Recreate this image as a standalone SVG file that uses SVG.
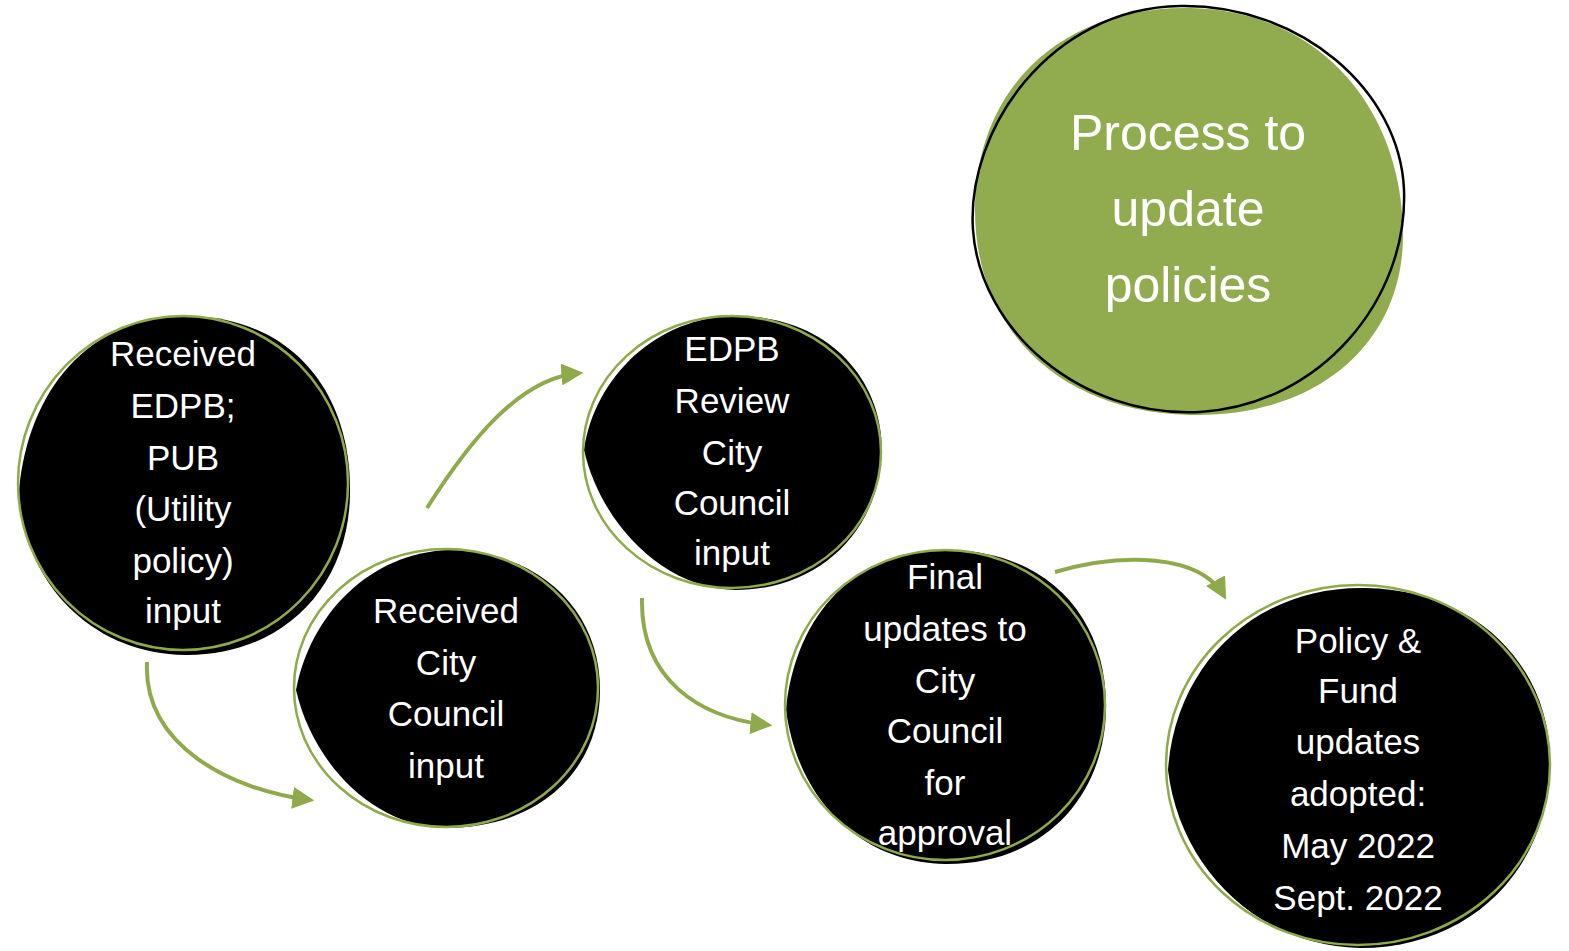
<svg xmlns="http://www.w3.org/2000/svg" width="1569" height="951" viewBox="0 0 1569 951">
<style>
.blob{fill:#000}
.ring{fill:none;stroke:#8FAA4B;stroke-width:2.5}
.t{font-family:"Liberation Sans","Noto Sans",sans-serif;font-size:35px;fill:#fff;text-anchor:middle}
.big{font-family:"Liberation Sans","Noto Sans",sans-serif;font-size:50px;fill:#fff;text-anchor:middle}
.conn{fill:none;stroke:#8FAA4B;stroke-width:4}
</style>
<defs>
<marker id="ah" viewBox="0 0 10 10" refX="8" refY="5" markerWidth="5.5" markerHeight="5.5" orient="auto" markerUnits="strokeWidth">
<path d="M0,0 L10,5 L0,10 z" fill="#8FAA4B"/>
</marker>
</defs>
<g id="title">
<path d="M1190,8 C1320,10 1405,110 1403,240 C1400,350 1310,418 1190,415 C1060,412 975,330 975,210 C975,90 1060,6 1190,8 Z" fill="#91AC4E"/>
<path d="M1180,6 C1300,4 1400,90 1404,190 C1408,300 1320,405 1200,412 C1080,418 980,330 973,230 C966,130 1050,8 1180,6 Z" fill="none" stroke="#000" stroke-width="2.5"/>
<text class="big" x="1188" y="150">Process to</text>
<text class="big" x="1188" y="226">update</text>
<text class="big" x="1188" y="302">policies</text>
</g>
<g id="node1">
<path class="blob" d="M190,316 C290,318 352,390 350,495 C348,590 280,656 185,655 C90,654 22,580 19,490 C28,390 90,314 190,316 Z"/>
<ellipse class="ring" cx="183" cy="483" rx="165" ry="167"/>
<text class="t" x="183" y="366">Received</text>
<text class="t" x="183" y="418">EDPB;</text>
<text class="t" x="183" y="470">PUB</text>
<text class="t" x="183" y="521">(Utility</text>
<text class="t" x="183" y="573">policy)</text>
<text class="t" x="183" y="623">input</text>
</g>
<g id="node2">
<path class="blob" d="M450,550 C540,552 600,610 600,690 C600,770 540,828 445,828 C370,826 312,760 296,690 C310,615 370,552 450,550 Z"/>
<ellipse class="ring" cx="446" cy="688" rx="152" ry="139"/>
<text class="t" x="446" y="623">Received</text>
<text class="t" x="446" y="675">City</text>
<text class="t" x="446" y="726">Council</text>
<text class="t" x="446" y="778">input</text>
</g>
<g id="node3">
<path class="blob" d="M740,316 C830,318 882,380 882,450 C880,530 820,590 735,590 C660,588 600,520 584,450 C595,375 660,314 740,316 Z"/>
<ellipse class="ring" cx="732" cy="452" rx="149" ry="136"/>
<text class="t" x="732" y="361">EDPB</text>
<text class="t" x="732" y="413">Review</text>
<text class="t" x="732" y="465">City</text>
<text class="t" x="732" y="515">Council</text>
<text class="t" x="732" y="565">input</text>
</g>
<g id="node4">
<path class="blob" d="M950,550 C1050,552 1108,620 1106,710 C1104,800 1040,865 945,864 C860,862 798,800 786,710 C796,610 860,548 950,550 Z"/>
<ellipse class="ring" cx="945" cy="705" rx="160" ry="155"/>
<text class="t" x="945" y="589">Final</text>
<text class="t" x="945" y="641">updates to</text>
<text class="t" x="945" y="693">City</text>
<text class="t" x="945" y="743">Council</text>
<text class="t" x="945" y="795">for</text>
<text class="t" x="945" y="845">approval</text>
</g>
<g id="node5">
<path class="blob" d="M1365,588 C1480,590 1552,670 1550,765 C1548,870 1470,948 1360,948 C1260,946 1180,870 1168,770 C1176,660 1260,586 1365,588 Z"/>
<ellipse class="ring" cx="1358" cy="765" rx="192" ry="180"/>
<text class="t" x="1358" y="653">Policy &amp;</text>
<text class="t" x="1358" y="703">Fund</text>
<text class="t" x="1358" y="754">updates</text>
<text class="t" x="1358" y="806">adopted:</text>
<text class="t" x="1358" y="858">May 2022</text>
<text class="t" x="1358" y="910">Sept. 2022</text>
</g>
<g id="connectors">
<path class="conn" marker-end="url(#ah)" d="M147,662 C143,745 230,790 310,800"/>
<path class="conn" marker-end="url(#ah)" d="M427,508 C470,440 520,378 579,373"/>
<path class="conn" marker-end="url(#ah)" d="M642,598 C640,680 700,718 768,725"/>
<path class="conn" marker-end="url(#ah)" d="M1055,572 C1120,553 1200,553 1224,596"/>
</g>
</svg>
